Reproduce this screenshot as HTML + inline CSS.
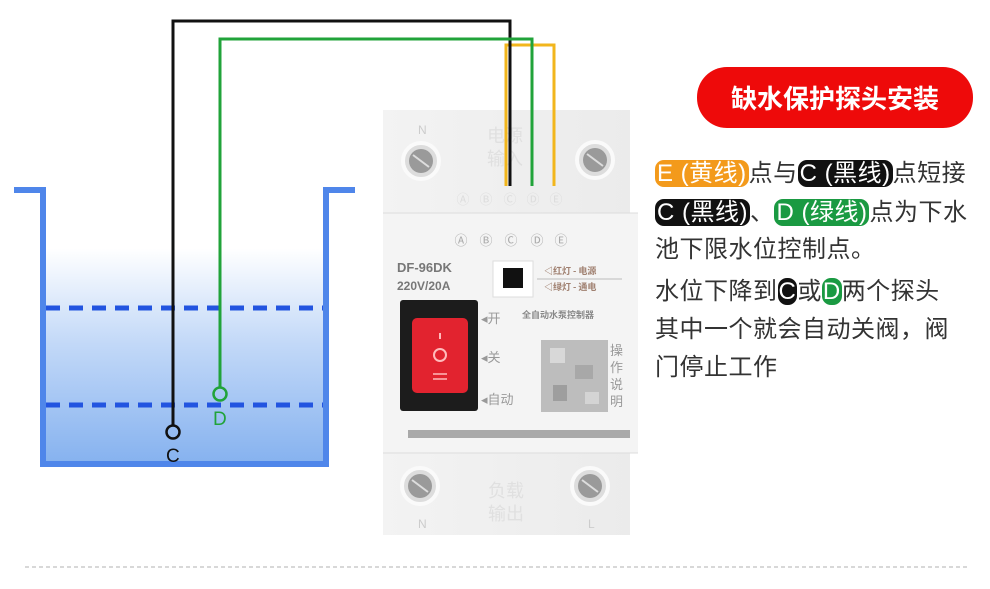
<!DOCTYPE html>
<html><head><meta charset="utf-8"><style>
body{margin:0;background:#fff;}
.t{position:absolute;font-family:"Liberation Sans","Noto Sans CJK SC",sans-serif;font-size:24px;color:#333;left:655px;white-space:nowrap;line-height:30px;letter-spacing:0.5px}
.b{border-radius:9px;color:#fff;padding:0 2px}
</style></head><body>
<div style="position:relative;width:990px;height:589px;overflow:hidden">
<svg width="990" height="589" style="position:absolute;left:0;top:0">
<defs>
<linearGradient id="w" x1="0" y1="0" x2="0" y2="1">
<stop offset="0" stop-color="#fff"/><stop offset="0.2" stop-color="#fff"/><stop offset="0.55" stop-color="#c3d9f8"/><stop offset="1" stop-color="#86b2ef"/></linearGradient>
<linearGradient id="dev" x1="0" y1="0" x2="1" y2="0"><stop offset="0" stop-color="#f3f3f3"/><stop offset="1" stop-color="#ebebeb"/></linearGradient>
</defs>
<rect x="46" y="195" width="277" height="268" fill="url(#w)"/>
<polyline points="14,190 43,190 43,464 326,464 326,190 355,190" fill="none" stroke="#4f86ea" stroke-width="6"/>
<line x1="46" y1="308" x2="323" y2="308" stroke="#2254e0" stroke-width="5" stroke-dasharray="14,9"/>
<line x1="46" y1="405" x2="323" y2="405" stroke="#2254e0" stroke-width="5" stroke-dasharray="14,9"/>
<rect x="383" y="110" width="247" height="103" fill="url(#dev)"/>
<rect x="383" y="213" width="255" height="240" fill="#f4f4f4"/>
<rect x="383" y="453" width="247" height="82" fill="url(#dev)"/>
<line x1="383" y1="213" x2="638" y2="213" stroke="#ddd"/>
<line x1="383" y1="453" x2="638" y2="453" stroke="#ddd"/>
<g fill="#ddd" stroke="#fafafa" stroke-width="4">
<circle cx="421" cy="161" r="18"/><circle cx="595" cy="160" r="18"/><circle cx="420" cy="486" r="18"/><circle cx="590" cy="486" r="18"/></g>
<g fill="#9a9a9a"><circle cx="421" cy="161" r="12"/><circle cx="595" cy="160" r="12"/><circle cx="420" cy="486" r="12"/><circle cx="590" cy="486" r="12"/></g>
<g stroke="#ddd" stroke-width="2"><line x1="413" y1="155" x2="429" y2="167"/><line x1="587" y1="154" x2="603" y2="166"/><line x1="412" y1="480" x2="428" y2="492"/><line x1="582" y1="480" x2="598" y2="492"/></g>
<g font-family="Liberation Sans" font-size="13" fill="#aaa" text-anchor="middle">
<text x="461" y="245">Ⓐ</text><text x="486" y="245">Ⓑ</text><text x="511" y="245">Ⓒ</text><text x="537" y="245">Ⓓ</text><text x="561" y="245">Ⓔ</text>
<text x="463" y="204" fill="#ddd">Ⓐ</text><text x="486" y="204" fill="#ddd">Ⓑ</text><text x="510" y="204" fill="#ddd">Ⓒ</text><text x="533" y="204" fill="#ddd">Ⓓ</text><text x="556" y="204" fill="#ddd">Ⓔ</text>
</g>
<text x="487" y="142" font-family="Noto Sans CJK SC" font-size="18" fill="#e0e0e0">电源</text>
<text x="487" y="165" font-family="Noto Sans CJK SC" font-size="18" fill="#e0e0e0">输入</text>
<text x="488" y="497" font-family="Noto Sans CJK SC" font-size="18" fill="#e0e0e0">负载</text>
<text x="488" y="520" font-family="Noto Sans CJK SC" font-size="18" fill="#e0e0e0">输出</text>
<text x="397" y="272" font-family="Liberation Sans" font-weight="bold" font-size="13" fill="#777">DF-96DK</text>
<text x="397" y="290" font-family="Liberation Sans" font-weight="bold" font-size="12" fill="#777">220V/20A</text>
<rect x="493" y="261" width="40" height="36" fill="#fff" stroke="#ddd"/>
<rect x="503" y="268" width="20" height="20" fill="#111"/>
<line x1="537" y1="279" x2="622" y2="279" stroke="#bbb"/>
<g font-family="Noto Sans CJK SC" font-size="9" fill="#a08070" font-weight="bold">
<text x="544" y="274">◁红灯 - 电源</text><text x="544" y="290">◁绿灯 - 通电</text>
<text x="522" y="318" fill="#888">全自动水泵控制器</text></g>
<rect x="400" y="300" width="78" height="111" rx="3" fill="#1c1c1c"/>
<rect x="412" y="318" width="56" height="75" rx="5" fill="#e2232f"/>
<line x1="440" y1="333" x2="440" y2="339" stroke="#fbb" stroke-width="2"/>
<circle cx="440" cy="355" r="6" fill="none" stroke="#fbb" stroke-width="2"/>
<line x1="433" y1="374" x2="447" y2="374" stroke="#fbb" stroke-width="1.5"/><line x1="433" y1="379" x2="447" y2="379" stroke="#fbb" stroke-width="1.5"/>
<g font-family="Noto Sans CJK SC" font-size="13" fill="#999"><text x="481" y="323">◂开</text><text x="481" y="362">◂关</text><text x="481" y="404">◂自动</text>
<text x="610" y="355">操</text><text x="610" y="372">作</text><text x="610" y="389">说</text><text x="610" y="406">明</text></g>
<rect x="541" y="340" width="67" height="72" fill="#bdbdbd"/>
<rect x="550" y="348" width="15" height="15" fill="#d8d8d8"/><rect x="575" y="365" width="18" height="14" fill="#a8a8a8"/><rect x="553" y="385" width="14" height="16" fill="#9e9e9e"/><rect x="585" y="392" width="14" height="12" fill="#d4d4d4"/>
<rect x="408" y="430" width="222" height="8" fill="#a9a9a9"/>
<text x="418" y="134" font-family="Liberation Sans" font-size="12" fill="#ccc">N</text>
<text x="418" y="528" font-family="Liberation Sans" font-size="12" fill="#ccc">N</text>
<text x="588" y="528" font-family="Liberation Sans" font-size="12" fill="#ccc">L</text>
<polyline points="506,186 506,45 554,45 554,186" fill="none" stroke="#f2b61c" stroke-width="3"/>
<polyline points="173,426 173,21 510,21 510,186" fill="none" stroke="#111" stroke-width="3"/>
<polyline points="220,388 220,39 532,39 532,186" fill="none" stroke="#21a33a" stroke-width="3"/>
<circle cx="173" cy="432" r="6.5" fill="none" stroke="#111" stroke-width="2.5"/>
<circle cx="220" cy="394" r="6.5" fill="none" stroke="#21a33a" stroke-width="2.5"/>
<text x="166" y="462" font-family="Liberation Sans" font-size="19" fill="#111">C</text>
<text x="213" y="425" font-family="Liberation Sans" font-size="19" fill="#21a33a">D</text>
<line x1="25" y1="567" x2="968" y2="567" stroke="#ccc" stroke-width="1.5" stroke-dasharray="4,3"/>
<rect x="697" y="67" width="276" height="61" rx="30" fill="#ee0a0a"/>
<text x="835" y="108" text-anchor="middle" font-family="Noto Sans CJK SC" font-weight="bold" font-size="26" fill="#fff">缺水保护探头安装</text>
</svg>
<div class="t" style="top:159px"><span class="b" style="background:#f39a1b">E (黄线)</span>点与<span class="b" style="background:#111">C (黑线)</span>点短接</div>
<div class="t" style="top:198px"><span class="b" style="background:#111">C (黑线)</span>、<span class="b" style="background:#1a9a42">D (绿线)</span>点为下水</div>
<div class="t" style="top:235px">池下限水位控制点。</div>
<div class="t" style="top:277px">水位下降到<span class="b" style="background:#111;padding:0 1px">C</span>或<span class="b" style="background:#1a9a42;padding:0 1px">D</span>两个探头</div>
<div class="t" style="top:315px">其中一个就会自动关阀，阀</div>
<div class="t" style="top:353px">门停止工作</div>
</div>
</body></html>
